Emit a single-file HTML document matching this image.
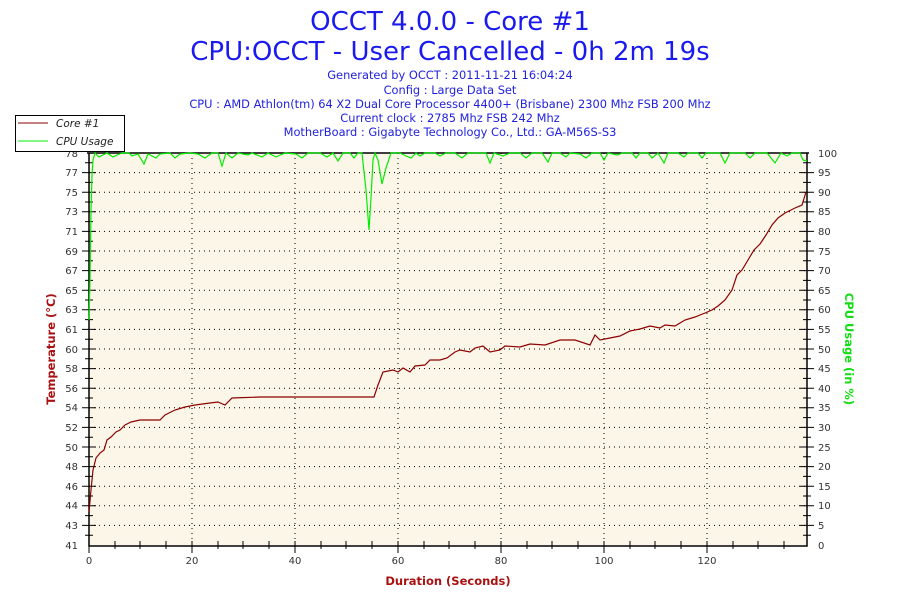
<!DOCTYPE html>
<html><head><meta charset="utf-8"><style>
body{margin:0;background:#fff;width:900px;height:600px;overflow:hidden;font-family:"DejaVu Sans",sans-serif}
</style></head><body>
<svg width="900" height="600" xmlns="http://www.w3.org/2000/svg" font-family="DejaVu Sans, sans-serif">
<rect width="900" height="600" fill="#fff"/>
<text x="450" y="30" text-anchor="middle" font-size="26" fill="#1a1aee">OCCT 4.0.0 - Core #1</text>
<text x="450" y="60" text-anchor="middle" font-size="26" fill="#1a1aee">CPU:OCCT - User Cancelled - 0h 2m 19s</text>
<g font-size="11.4" fill="#2222dd" text-anchor="middle">
<text x="450" y="79">Generated by OCCT : 2011-11-21 16:04:24</text>
<text x="450" y="94">Config : Large Data Set</text>
<text x="450" y="108">CPU : AMD Athlon(tm) 64 X2 Dual Core Processor 4400+ (Brisbane) 2300 Mhz FSB 200 Mhz</text>
<text x="450" y="122">Current clock : 2785 Mhz FSB 242 Mhz</text>
<text x="450" y="136">MotherBoard : Gigabyte Technology Co., Ltd.: GA-M56S-S3</text>
</g>
<rect x="89" y="153" width="718" height="392" fill="#fcf6e9"/>
<g stroke="#000" stroke-dasharray="1,4" stroke-width="1">
<path d="M89 172.6H807M89 192.2H807M89 211.8H807M89 231.4H807M89 251H807M89 270.6H807M89 290.2H807M89 309.8H807M89 329.4H807M89 349H807M89 368.6H807M89 388.2H807M89 407.8H807M89 427.4H807M89 447H807M89 466.6H807M89 486.2H807M89 505.8H807M89 525.4H807"/>
<path d="M192 153V545M295 153V545M398 153V545M501 153V545M604 153V545M707 153V545"/>
</g>
<g stroke="#000" stroke-width="1.5" fill="none">
<path d="M89 153V546H807V153M87 153H809"/>
</g>
<g stroke="#000" stroke-width="1">
<path d="M82 172.6h14M82 192.2h14M82 211.8h14M82 231.4h14M82 251h14M82 270.6h14M82 290.2h14M82 309.8h14M82 329.4h14M82 349h14M82 368.6h14M82 388.2h14M82 407.8h14M82 427.4h14M82 447h14M82 466.6h14M82 486.2h14M82 505.8h14M82 525.4h14"/>
<path d="M800 172.6h14M800 192.2h14M800 211.8h14M800 231.4h14M800 251h14M800 270.6h14M800 290.2h14M800 309.8h14M800 329.4h14M800 349h14M800 368.6h14M800 388.2h14M800 407.8h14M800 427.4h14M800 447h14M800 466.6h14M800 486.2h14M800 505.8h14M800 525.4h14"/>
<path d="M85 162.8h8M85 182.4h8M85 202h8M85 221.6h8M85 241.2h8M85 260.8h8M85 280.4h8M85 300h8M85 319.6h8M85 339.2h8M85 358.8h8M85 378.4h8M85 398h8M85 417.6h8M85 437.2h8M85 456.8h8M85 476.4h8M85 496h8M85 515.6h8M85 535.2h8"/>
<path d="M803 162.8h8M803 182.4h8M803 202h8M803 221.6h8M803 241.2h8M803 260.8h8M803 280.4h8M803 300h8M803 319.6h8M803 339.2h8M803 358.8h8M803 378.4h8M803 398h8M803 417.6h8M803 437.2h8M803 456.8h8M803 476.4h8M803 496h8M803 515.6h8M803 535.2h8"/>
<path d="M89 541v12M192 541v12M295 541v12M398 541v12M501 541v12M604 541v12M707 541v12"/>
<path d="M115 541v8M140 541v8M166 541v8M218 541v8M243 541v8M269 541v8M321 541v8M346 541v8M372 541v8M424 541v8M449 541v8M475 541v8M527 541v8M552 541v8M578 541v8M630 541v8M655 541v8M681 541v8M733 541v8M758 541v8M784 541v8"/>
</g>
<g font-size="10" fill="#333" text-anchor="end">
<text x="78" y="157">78</text><text x="78" y="176">77</text><text x="78" y="196">75</text><text x="78" y="215">73</text><text x="78" y="235">71</text><text x="78" y="255">69</text><text x="78" y="274">67</text><text x="78" y="294">65</text><text x="78" y="313">63</text><text x="78" y="333">61</text><text x="78" y="353">60</text><text x="78" y="372">58</text><text x="78" y="392">56</text><text x="78" y="411">54</text><text x="78" y="431">52</text><text x="78" y="451">50</text><text x="78" y="470">48</text><text x="78" y="490">46</text><text x="78" y="509">44</text><text x="78" y="529">43</text><text x="78" y="549">41</text>
</g>
<g font-size="10" fill="#333" text-anchor="start">
<text x="818" y="157">100</text><text x="818" y="176">95</text><text x="818" y="196">90</text><text x="818" y="215">85</text><text x="818" y="235">80</text><text x="818" y="255">75</text><text x="818" y="274">70</text><text x="818" y="294">65</text><text x="818" y="313">60</text><text x="818" y="333">55</text><text x="818" y="353">50</text><text x="818" y="372">45</text><text x="818" y="392">40</text><text x="818" y="411">35</text><text x="818" y="431">30</text><text x="818" y="451">25</text><text x="818" y="470">20</text><text x="818" y="490">15</text><text x="818" y="509">10</text><text x="818" y="529">5</text><text x="818" y="549">0</text>
</g>
<g font-size="10" fill="#333" text-anchor="middle">
<text x="89" y="564">0</text><text x="192" y="564">20</text><text x="295" y="564">40</text><text x="398" y="564">60</text><text x="501" y="564">80</text><text x="604" y="564">100</text><text x="707" y="564">120</text>
</g>
<text x="448" y="585" text-anchor="middle" font-size="11.5" font-weight="bold" fill="#aa1111">Duration (Seconds)</text>
<text transform="translate(55,349) rotate(-90)" text-anchor="middle" font-size="11.5" font-weight="bold" fill="#aa1111">Temperature (°C)</text>
<text transform="translate(845,349) rotate(90)" text-anchor="middle" font-size="11.5" font-weight="bold" fill="#11dd11">CPU Usage (in %)</text>
<polyline fill="none" stroke="#00ee00" stroke-width="1.2" points="89,320 90,280 91,210 92,175 93,160 95,153 99,157 103,155 107,153 113,157 117,155 122,153 129,153 132,156 138,154 144,164 148,154 156,158 160,154 170,153 175,158 180,154 190,153 198,154 205,158 212,153 218,153 222,166 226,153 232,158 238,153 248,155 252,153 262,157 268,153 276,157 285,153 296,154 302,158 308,153 320,153 327,157 333,153 338,161 343,153 350,153 354,158 358,153 362,153 366,190 369,230 371,198 373,160 375,153 378,160 382,184 386,168 391,153 400,153 406,156 411,158 416,153 420,156 425,153 435,153 440,156 446,153 455,153 462,158 468,153 478,153 486,153 490,163 494,153 503,156 510,153 520,153 526,158 532,153 542,153 548,162 552,153 560,153 566,157 570,153 580,154 586,158 592,153 600,153 604,160 608,153 618,155 622,153 632,153 636,158 640,153 648,153 652,158 658,153 664,163 668,153 678,153 684,157 688,153 698,153 702,158 706,153 720,153 725,163 730,153 745,153 750,158 755,153 767,153 775,163 781,153 787,156 792,153 800,153 803,160 807,161"/>
<polyline fill="none" stroke="#8b0000" stroke-width="1.2" points="89,512 91,490 93,470 96,458 100,453 104,450 107,440 111,437 116,432 120,430 125,425 131,422 140,420 160,420 165,415 175,410 185,407 195,405 210,403 218,402 225,405 232,398 260,397 374,397 378,385 383,372 393,370 398,372 403,368 410,372 415,366 425,365 430,360 440,360 447,358 455,352 460,350 470,352 475,348 483,346 490,352 500,350 505,346 520,347 530,344 545,345 560,340 575,340 590,345 595,335 600,340 610,338 620,336 630,331 640,329 650,326 660,328 665,325 675,326 685,320 695,317 705,313 712,310 718,306 725,300 732,290 737,275 742,270 748,260 754,250 760,244 766,235 772,225 778,218 785,213 795,208 802,205 806,192"/>
<rect x="15.5" y="115.5" width="109" height="36" fill="#fff" stroke="#000"/>
<line x1="18" y1="123" x2="48" y2="123" stroke="#8b0000"/>
<line x1="18" y1="141" x2="48" y2="141" stroke="#00ee00"/>
<text x="56" y="127" font-size="10.5" font-style="italic" fill="#222">Core #1</text>
<text x="56" y="145" font-size="10.5" font-style="italic" fill="#222">CPU Usage</text>
</svg>
</body></html>
